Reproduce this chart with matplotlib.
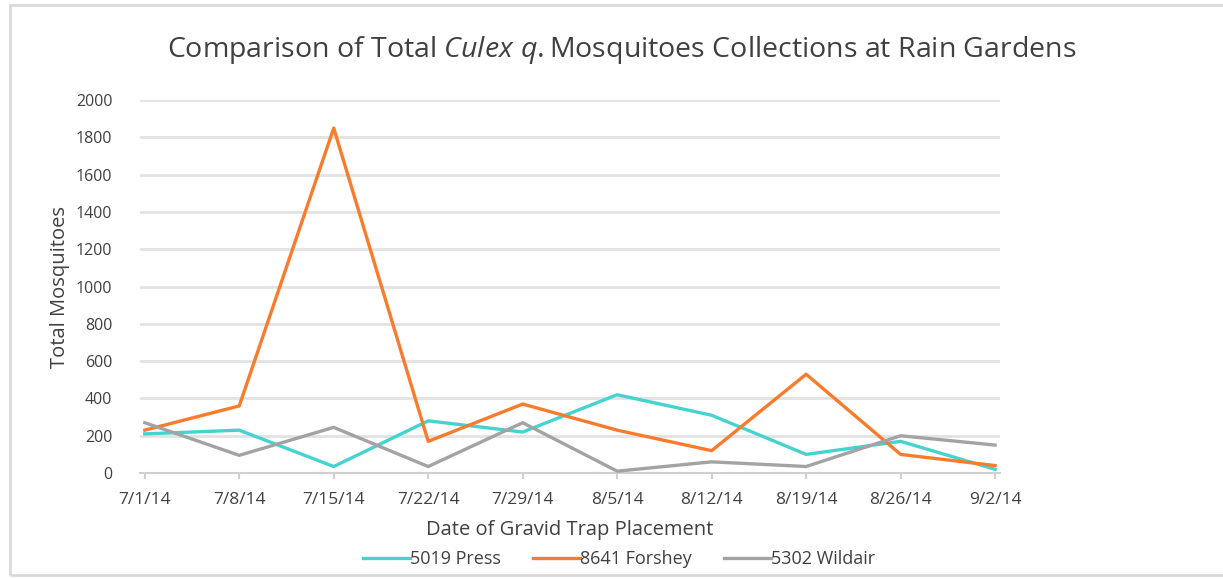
import matplotlib.pyplot as plt
from matplotlib.patches import Rectangle

dates = ['7/1/14', '7/8/14', '7/15/14', '7/22/14', '7/29/14',
         '8/5/14', '8/12/14', '8/19/14', '8/26/14', '9/2/14']
press = [210, 230, 35, 280, 220, 420, 310, 100, 170, 20]
forshey = [230, 360, 1850, 170, 370, 230, 120, 530, 100, 40]
wildair = [270, 95, 245, 35, 270, 10, 60, 35, 200, 150]
yticks = list(range(0, 2001, 200))

plt.rcParams['font.family'] = ['Open Sans', 'DejaVu Sans']
plt.rcParams['mathtext.fontset'] = 'custom'
plt.rcParams['mathtext.rm'] = 'Open Sans'
plt.rcParams['mathtext.it'] = 'Open Sans:italic'

txt = '#404040'
fig = plt.figure(figsize=(12.23, 5.79), dpi=100)
ax = fig.add_axes([0.1145, 0.183, 0.703, 0.644])

x = list(range(len(dates)))
ax.plot(x, press, color='#45D3D0', lw=2.4, label='5019 Press', zorder=3)
ax.plot(x, forshey, color='#FB7B2C', lw=2.4, label='8641 Forshey', zorder=3)
ax.plot(x, wildair, color='#A3A3A3', lw=2.4, label='5302 Wildair', zorder=3)

ax.set_ylim(0, 2000)
ax.set_xlim(-0.05, 9.05)
ax.set_yticks(yticks)
ax.set_xticks(x)
ax.set_xticklabels(dates)
ax.grid(axis='y', color='#E2E2E2', lw=2)
ax.set_axisbelow(True)
for s in ['top', 'right', 'left']:
    ax.spines[s].set_visible(False)
ax.spines['bottom'].set_color('#D0D0D0')
ax.spines['bottom'].set_linewidth(1.5)
ax.tick_params(axis='y', length=0, labelsize=11.5, labelcolor=txt, pad=20)
ax.tick_params(axis='x', length=4, color='#D0D0D0', width=1.5,
               labelsize=12.5, labelcolor=txt, pad=10)

ax.set_ylabel('Total Mosquitoes', fontsize=14.5, color=txt, labelpad=4)
ax.set_xlabel('Date of Gravid Trap Placement', fontsize=14.5, color=txt, labelpad=8)
fig.text(0.508, 0.913, r'Comparison of Total $\mathit{Culex\ q.}$Mosquitoes Collections at Rain Gardens',
         ha='center', va='center', fontsize=20.5, color=txt)

ax.legend(loc='center', bbox_to_anchor=(0.557, -0.23), ncol=3, frameon=False,
          fontsize=13, labelcolor=txt, handlelength=2.6, handletextpad=0.0,
          columnspacing=1.8, handleheight=0.5)

fig.patches.append(Rectangle((0.008, 0.007), 1.0, 0.985, transform=fig.transFigure,
                             fill=False, edgecolor='#D9D9D9', lw=2))

fig.savefig('out.png', dpi=100)
